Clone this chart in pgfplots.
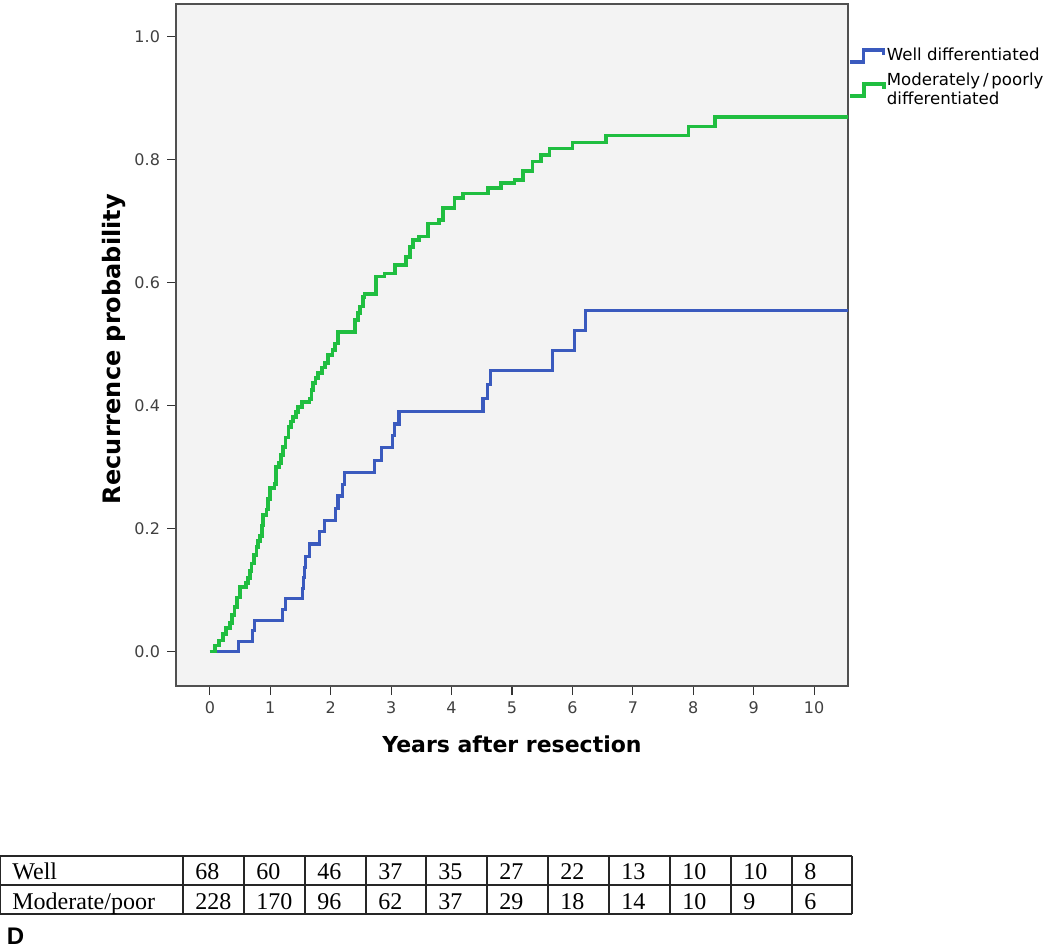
\documentclass[border=0pt]{standalone}
\usepackage{pgfplots}
\pgfplotsset{compat=1.18}
\usepackage{pgfplotstable}
\usepackage{fontspec}
\setmainfont{DejaVu Sans}
\newfontfamily\tabfont{Liberation Serif}
\newfontfamily\Dfont{Liberation Sans}
\definecolor{kmblue}{RGB}{58,90,190}
\definecolor{kmgreen}{RGB}{32,190,64}
\definecolor{bggray}{RGB}{243,243,243}
\definecolor{framegray}{RGB}{80,80,80}

\pgfplotstableread{
t y
0 0
0.47 0.017
0.70 0.034
0.74 0.051
1.20 0.068
1.25 0.086
1.54 0.103
1.555 0.120
1.57 0.137
1.585 0.155
1.65 0.175
1.81 0.195
1.90 0.213
2.08 0.232
2.12 0.253
2.20 0.272
2.23 0.291
2.73 0.311
2.84 0.332
3.02 0.352
3.06 0.370
3.13 0.390
4.52 0.412
4.60 0.435
4.65 0.457
5.67 0.490
6.03 0.522
6.21 0.555
10.7 0.555
}\wellTab

\pgfplotstableread{
t y
0 0
0.08 0.010
0.15 0.018
0.22 0.029
0.27 0.038
0.33 0.047
0.37 0.060
0.41 0.073
0.45 0.088
0.50 0.105
0.60 0.111
0.63 0.120
0.66 0.131
0.69 0.143
0.73 0.157
0.77 0.170
0.80 0.180
0.83 0.188
0.86 0.205
0.88 0.222
0.94 0.231
0.96 0.248
0.99 0.266
1.07 0.272
1.10 0.300
1.15 0.307
1.18 0.320
1.21 0.333
1.25 0.348
1.30 0.365
1.34 0.374
1.38 0.382
1.42 0.390
1.46 0.398
1.52 0.406
1.65 0.411
1.68 0.425
1.71 0.437
1.75 0.445
1.79 0.453
1.86 0.462
1.90 0.469
1.96 0.482
2.03 0.490
2.07 0.501
2.12 0.520
2.40 0.539
2.45 0.550
2.48 0.561
2.53 0.577
2.56 0.582
2.75 0.610
2.89 0.615
3.06 0.629
3.25 0.642
3.31 0.658
3.36 0.669
3.46 0.675
3.61 0.696
3.79 0.702
3.86 0.721
4.05 0.737
4.19 0.745
4.60 0.754
4.82 0.762
5.04 0.767
5.18 0.781
5.34 0.797
5.48 0.808
5.62 0.818
6.00 0.828
6.55 0.839
7.92 0.854
8.36 0.869
10.7 0.869
}\modTab

\begin{document}
\begin{tikzpicture}
\useasboundingbox (0,0) rectangle (525pt,-474.5pt);
\begin{axis}[
  at={(88pt,-343pt)}, anchor=south west,
  scale only axis, width=336pt, height=341pt,
  xmin=-0.56, xmax=10.56, ymin=-0.056, ymax=1.053,
  clip=true,
  axis background/.style={fill=bggray},
  axis line style={draw=framegray, line width=0.9pt},
  xtick={0,1,...,10}, ytick={0,0.2,0.4,0.6,0.8,1.0},
  xtick pos=bottom, ytick pos=left, tick align=outside,
  major tick length=4.5pt,
  tick style={draw=black!80, line width=0.6pt},
  yticklabel style={/pgf/number format/.cd, fixed, fixed zerofill, precision=1},
  /pgf/number format/assume math mode=true,
  ticklabel style={font=\fontsize{8pt}{9pt}\selectfont, text=black!75},
  xlabel={Years after resection},
  ylabel={Recurrence probability},
  xlabel style={at={(axis description cs:0.5,0)}, anchor=base, yshift=-33.35pt,
    font=\fontsize{11pt}{13pt}\selectfont\bfseries},
  ylabel style={at={(axis description cs:0,0.494)}, anchor=base, yshift=28pt,
    font=\fontsize{12pt}{14pt}\selectfont\bfseries},
  legend style={at={(axis description cs:1,0.937)}, anchor=north west,
    draw=none, fill=none, inner sep=0pt, outer sep=0pt,
    font=\fontsize{8.3pt}{9.5pt}\selectfont,
    cells={anchor=west, align=left}, row sep=3.2pt,
    nodes={inner sep=0.6pt}},
  legend image code/.code={\draw[#1] (0pt,-3pt) -- (7pt,-3pt) -- (7pt,3pt) -- (17pt,3pt) -- (17pt,0.5pt);},
  legend cell align=left,
]
\addplot[const plot, color=kmblue, line width=1.55pt] table[x=t,y=y] {\wellTab};
\addlegendentry{Well differentiated}
\addplot[const plot, color=kmgreen, line width=1.85pt] table[x=t,y=y] {\modTab};
\addlegendentry{Moderately\,/\,poorly\\differentiated}
\end{axis}

% number-at-risk table
\begin{scope}[line width=0.7pt, draw=black!85]
  \draw (0,-428pt) -- (426pt,-428pt);
  \draw (0,-442.5pt) -- (426pt,-442.5pt);
  \draw (0,-457pt) -- (426pt,-457pt);
  \foreach \xx in {0.35,91.5,122,152.5,183,213,243.5,274,304.5,335,365.5,396,426}
    \draw (\xx pt,-428pt) -- (\xx pt,-457pt);
\end{scope}
\begin{scope}[every node/.style={anchor=base west, inner sep=0pt, font=\tabfont\fontsize{12pt}{14pt}\selectfont}]
  \node at (6pt,-439.65pt) {Well};
  \node at (6pt,-454.65pt) {Moderate/poor};
  \foreach \xx/\a/\b in {91.5/68/228,122/60/170,152.5/46/96,183/37/62,213/35/37,243.5/27/29,274/22/18,304.5/13/14,335/10/10,365.5/10/9,396/8/6}{
    \node at (\xx pt+6pt,-439.65pt) {\a};
    \node at (\xx pt+6pt,-454.65pt) {\b};
  }
\end{scope}
\node[anchor=base west, inner sep=0pt, font=\Dfont\bfseries\fontsize{12pt}{14pt}\selectfont] at (3.2pt,-472.3pt) {D};
\end{tikzpicture}
\end{document}
